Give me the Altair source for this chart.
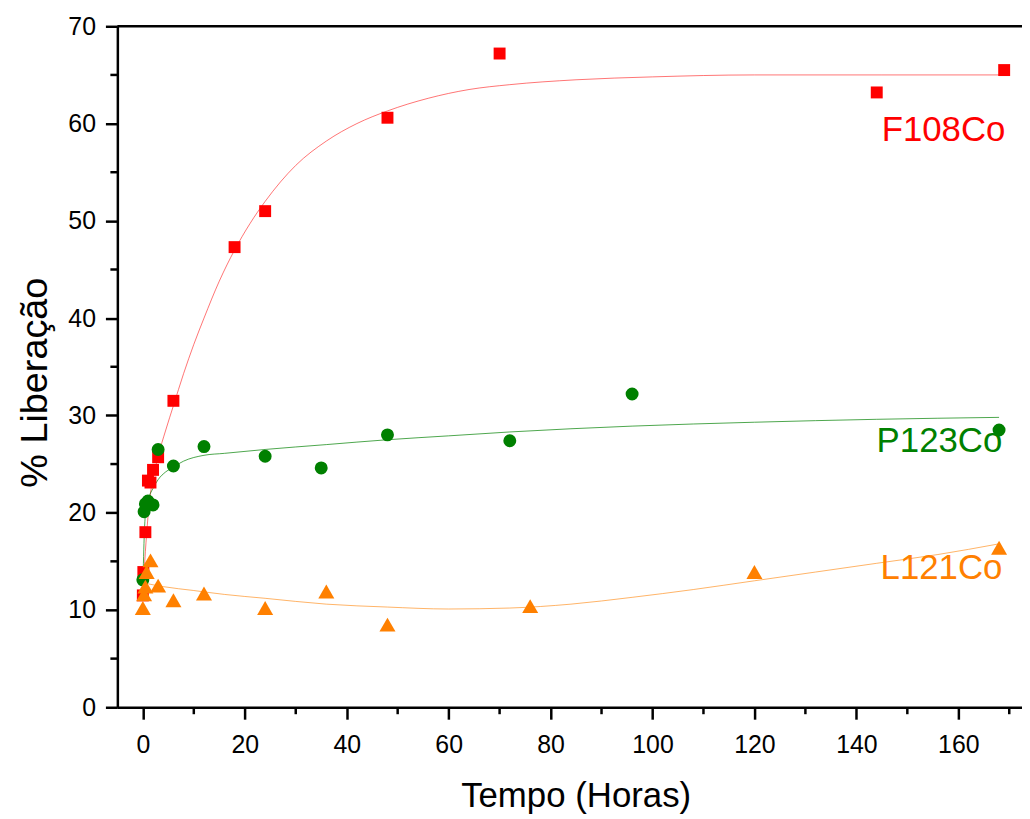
import altair as alt
import pandas as pd

# ---------------- data ----------------
# F108Co measured points
f_t = [0, 0.1, 0.5, 1, 1.5, 2, 3, 6, 18, 24, 48, 70, 144, 169]
f_v = [11.5, 13.9, 18.0, 23.3, 23.1, 24.4, 25.7, 31.5, 47.3, 51.0, 60.6, 67.2, 63.2, 65.5]
# P123Co measured points
g_t = [0, 0.25, 0.5, 1, 2, 3, 6, 12, 24, 35, 48, 72, 96, 168]
g_v = [13.1, 20.1, 20.9, 21.2, 20.8, 26.5, 24.8, 26.8, 25.8, 24.6, 28.0, 27.4, 32.2, 28.5]
# L121Co measured points
o_t = [0, 0.25, 0.5, 0.75, 1.5, 3, 6, 12, 24, 36, 48, 76, 120, 168]
o_v = [10.2, 11.6, 12.4, 13.9, 15.1, 12.5, 11.0, 11.7, 10.2, 11.9, 8.5, 10.4, 13.9, 16.4]

# fitted curves
fx = [0, 0.5, 1, 1.5, 2, 3, 4.5, 6, 8, 10, 12, 15, 18, 21, 24, 30, 36, 42, 48, 56, 64, 72, 85, 100, 120, 145, 168]
fy = [11.5, 16, 19.5, 22, 23.5, 25.8, 28.5, 31, 34.3, 37.3, 40, 43.8, 47, 49.7, 52, 55.7, 58.2, 60, 61.3, 62.6, 63.5, 64.0, 64.5, 64.8, 65.0, 65.0, 65.0]
gx = [0, 0.15, 0.3, 0.5, 0.8, 1.2, 2, 3, 4.5, 6, 8, 12, 16, 24, 36, 48, 60, 72, 96, 120, 144, 168]
gy = [12.5, 15.5, 18, 19.8, 20.8, 21.6, 22.5, 23.4, 24.2, 24.7, 25.3, 25.9, 26.1, 26.5, 27.0, 27.5, 27.9, 28.3, 28.9, 29.3, 29.6, 29.8]
ox = [0, 4, 10, 16, 24, 36, 48, 60, 72, 84, 96, 108, 120, 132, 144, 156, 168]
oy = [12.8, 12.4, 12.0, 11.6, 11.2, 10.6, 10.3, 10.1, 10.2, 10.6, 11.3, 12.1, 13.0, 13.9, 14.8, 15.7, 16.8]

series_names = ["F108Co", "P123Co", "L121Co"]
x_ticks = [0, 20, 40, 60, 80, 100, 120, 140, 160]
x_minor = [10, 30, 50, 70, 90, 110, 130, 150, 170]
y_ticks = [0, 10, 20, 30, 40, 50, 60, 70]
y_minor = [5, 15, 25, 35, 45, 55, 65]

# ---------------- styling ----------------
RED, GREEN, ORANGE = "#FF0000", "#008000", "#FF8000"
FONT = "Liberation Sans"
W, H = 910, 685
xs = alt.Scale(domain=[-5, 172.5], nice=False, zero=False)
ys = alt.Scale(domain=[0, 70], nice=False, zero=False)

x_axis = alt.Axis(
    values=x_ticks, format="d", title="Tempo (Horas)",
    labelFont=FONT, labelFontSize=25, labelColor="black", labelPadding=14, labelFlush=False,
    tickSize=12, tickWidth=2.5, tickColor="black",
    domainWidth=2.5, domainColor="black", grid=False,
    titleFont=FONT, titleFontSize=35, titleFontWeight="normal", titleColor="black",
    titleX=461, titleY=100, titleBaseline="alphabetic",
)
y_axis = alt.Axis(
    values=y_ticks, format="d", title="% Liberação",
    labelFont=FONT, labelFontSize=25, labelColor="black", labelPadding=10,
    tickSize=12, tickWidth=2.5, tickColor="black",
    domainWidth=2.5, domainColor="black", grid=False,
    titleFont=FONT, titleFontSize=38, titleFontWeight="normal", titleColor="black",
    titleX=-71, titleY=358, titleBaseline="alphabetic",
)


def X(field="t"):
    return alt.X(f"{field}:Q", scale=xs, axis=x_axis)


def Y(field="v"):
    return alt.Y(f"{field}:Q", scale=ys, axis=y_axis)


def line(xv, yv, color, op):
    df = pd.DataFrame({"t": xv, "v": yv})
    return alt.Chart(df).mark_line(color=color, strokeWidth=1, opacity=op, interpolate="monotone").encode(
        x=X(), y=Y())


def pts(tv, vv, color, shape, size):
    df = pd.DataFrame({"t": tv, "v": vv})
    return alt.Chart(df).mark_point(shape=shape, filled=True, color=color, size=size, opacity=1, strokeWidth=0).encode(
        x=X(), y=Y())


xminor_layer = alt.Chart(pd.DataFrame({"t": x_minor})).mark_rule(color="black", strokeWidth=2.5).encode(
    x=X(), y=alt.value(H), y2=alt.value(H + 7))
yminor_layer = alt.Chart(pd.DataFrame({"v": y_minor})).mark_rule(color="black", strokeWidth=2.5).encode(
    y=Y(), x=alt.value(0), x2=alt.value(-7))
top_border = alt.Chart(pd.DataFrame({"a": [0]})).mark_rule(color="black", strokeWidth=2.5).encode(
    x=alt.value(0), x2=alt.value(W), y=alt.value(0))

# label anchors (data units)
labels = pd.DataFrame({
    "t": [157.1, 156.3, 156.7],
    "v": [58.2, 26.2, 13.2],
    "name": series_names,
    "c": [RED, GREEN, ORANGE],
})
label_layer = alt.Chart(labels).mark_text(font=FONT, fontSize=35, align="center", baseline="alphabetic").encode(
    x=X(), y=Y(), text="name:N", color=alt.Color("c:N", scale=None))

chart = alt.layer(
    line(fx, fy, RED, 0.55),
    line(gx, gy, GREEN, 0.7),
    line(ox, oy, ORANGE, 0.6),
    pts(f_t, f_v, RED, "square", 144),
    pts(g_t, g_v, GREEN, "circle", 170),
    pts(o_t, o_v, ORANGE, "triangle-up", 260),
    xminor_layer, yminor_layer, top_border,
    label_layer,
).properties(
    width=W, height=H,
    autosize=alt.AutoSizeParams(type="none"),
    padding={"left": 110, "top": 16, "right": 0, "bottom": 110},
    background="white",
).configure_view(stroke=None)

chart.save("out.html", embed_options={"renderer": "svg", "actions": False})
